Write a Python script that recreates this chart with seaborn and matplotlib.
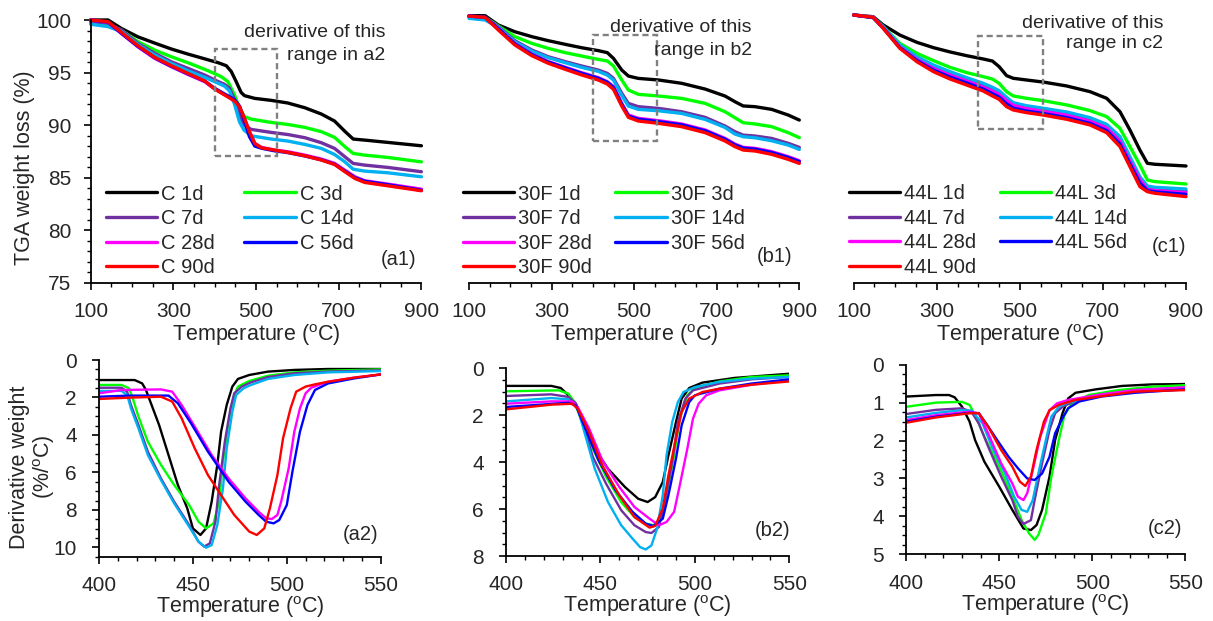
import matplotlib
matplotlib.use("Agg")
import matplotlib.pyplot as plt
from matplotlib.lines import Line2D
from matplotlib.patches import Rectangle
from matplotlib.ticker import MultipleLocator, FixedLocator
import pandas as pd
import seaborn as sns

sns.set_style("ticks")
plt.rcParams["font.family"] = ["Liberation Sans", "DejaVu Sans"]
plt.rcParams["mathtext.fontset"] = "custom"
plt.rcParams["mathtext.rm"] = "Liberation Sans"

# ---------------------------------------------------------------- series
ages = ["1d", "3d", "7d", "14d", "28d", "56d", "90d"]
colors = ["#000000", "#00FF00", "#7030A0", "#00B0F0", "#FF00FF", "#0000FF", "#FF0000"]

# TGA, mix C
C_1d_T = [100, 142, 174, 214, 255, 295, 335, 376, 408, 428, 440, 452, 464, 472, 497, 537, 577, 618, 658, 690, 715, 735, 763, 819, 900]
C_1d_W = [100, 100, 99.2, 98.4, 97.8, 97.24, 96.76, 96.3, 95.94, 95.65, 95.1, 94.13, 93.1, 92.8, 92.54, 92.35, 92.1, 91.65, 91.05, 90.38, 89.4, 88.67, 88.57, 88.35, 88.03]
C_3d_T = [100, 142, 174, 214, 255, 295, 335, 376, 400, 416, 432, 448, 460, 472, 488, 537, 577, 618, 658, 690, 715, 735, 763, 819, 900]
C_3d_W = [99.68, 99.5, 99.05, 97.94, 97.14, 96.5, 95.94, 95.3, 94.9, 94.6, 94.13, 92.86, 91.6, 90.8, 90.57, 90.25, 90.06, 89.78, 89.37, 88.83, 87.94, 87.3, 87.14, 86.92, 86.5]
C_7d_T = [100, 142, 174, 214, 255, 295, 335, 376, 400, 424, 436, 448, 460, 472, 488, 537, 577, 618, 658, 690, 715, 735, 763, 819, 900]
C_7d_W = [99.84, 99.7, 99.05, 97.78, 96.83, 96.03, 95.4, 94.76, 94.29, 93.87, 93.5, 92.38, 90.95, 90.0, 89.59, 89.3, 89.1, 88.8, 88.32, 87.78, 86.98, 86.35, 86.19, 85.97, 85.56]
C_14d_T = [100, 142, 174, 214, 255, 295, 335, 376, 400, 424, 436, 448, 460, 471, 488, 537, 577, 618, 658, 690, 715, 735, 763, 819, 900]
C_14d_W = [99.6, 99.37, 98.9, 97.68, 96.67, 95.87, 95.17, 94.54, 94.13, 93.7, 93.24, 91.97, 90.3, 89.52, 88.98, 88.67, 88.48, 88.16, 87.78, 87.2, 86.5, 85.8, 85.62, 85.46, 85.08]
C_28d_T = [100, 142, 174, 214, 255, 295, 335, 376, 400, 424, 448, 460, 472, 484, 497, 513, 545, 577, 618, 658, 690, 715, 739, 763, 819, 900]
C_28d_W = [100, 99.78, 98.73, 97.46, 96.35, 95.56, 94.83, 94.13, 93.43, 92.92, 92.38, 91.75, 90.63, 89.37, 88.25, 87.87, 87.62, 87.46, 87.14, 86.76, 86.35, 85.7, 85.08, 84.7, 84.38, 83.9]
C_56d_T = [100, 142, 174, 214, 255, 295, 335, 376, 400, 424, 448, 460, 472, 484, 497, 513, 545, 577, 618, 658, 690, 715, 739, 763, 819, 900]
C_56d_W = [100, 99.8, 98.75, 97.5, 96.4, 95.6, 94.88, 94.18, 93.5, 92.95, 92.42, 91.8, 90.4, 88.9, 88.0, 87.8, 87.55, 87.38, 87.06, 86.7, 86.28, 85.62, 85.0, 84.65, 84.32, 83.8]
C_90d_T = [100, 142, 174, 214, 255, 295, 335, 376, 400, 424, 448, 460, 472, 484, 497, 513, 545, 577, 618, 658, 690, 715, 739, 763, 819, 900]
C_90d_W = [100, 99.84, 98.83, 97.56, 96.44, 95.65, 94.92, 94.19, 93.43, 92.86, 92.29, 91.75, 90.63, 89.37, 88.25, 87.84, 87.62, 87.4, 87.08, 86.67, 86.25, 85.56, 84.92, 84.54, 84.22, 83.75]

# TGA, mix 30F (shared temperature grid)
F_T = [100, 139, 171, 211, 252, 292, 333, 373, 413, 435, 450, 470, 486, 510, 559, 615, 672, 720, 744, 764, 793, 833, 873, 900]
F_1d_W = [100, 100, 99.13, 98.5, 98.04, 97.66, 97.32, 97.0, 96.73, 96.54, 96.0, 94.91, 94.35, 94.13, 93.98, 93.67, 93.13, 92.48, 91.95, 91.55, 91.48, 91.23, 90.7, 90.23]
F_3d_W = [99.9, 99.85, 99.04, 98.04, 97.41, 96.94, 96.54, 96.22, 95.91, 95.76, 95.29, 93.98, 93.04, 92.64, 92.48, 92.26, 91.79, 91.01, 90.45, 89.98, 89.86, 89.61, 89.05, 88.58]
F_7d_W = [99.9, 99.8, 98.97, 97.66, 96.79, 96.16, 95.7, 95.29, 94.91, 94.6, 94.13, 92.73, 91.79, 91.48, 91.32, 91.01, 90.48, 89.67, 89.14, 88.82, 88.73, 88.51, 88.05, 87.67]
F_14d_W = [99.75, 99.6, 98.9, 97.57, 96.69, 96.07, 95.6, 95.16, 94.79, 94.44, 93.98, 92.54, 91.54, 91.23, 91.1, 90.85, 90.29, 89.54, 88.92, 88.67, 88.57, 88.29, 87.89, 87.48]
F_28d_W = [99.97, 99.85, 98.82, 97.41, 96.41, 95.7, 95.17, 94.66, 94.2, 93.82, 93.35, 91.79, 90.7, 90.39, 90.17, 89.86, 89.3, 88.51, 87.98, 87.67, 87.58, 87.27, 86.8, 86.42]
F_56d_W = [99.97, 99.85, 98.78, 97.36, 96.36, 95.65, 95.12, 94.6, 94.14, 93.76, 93.28, 91.7, 90.6, 90.3, 90.08, 89.78, 89.22, 88.43, 87.9, 87.6, 87.5, 87.19, 86.72, 86.33]
F_90d_W = [99.97, 99.84, 98.66, 97.26, 96.26, 95.54, 94.98, 94.45, 93.98, 93.6, 93.1, 91.54, 90.48, 90.14, 89.92, 89.61, 89.05, 88.27, 87.74, 87.42, 87.33, 87.02, 86.55, 86.17]

# TGA, mix 44L (shared temperature grid)
L_T = [100, 147, 171, 211, 252, 292, 332, 372, 412, 434, 450, 468, 484, 516, 556, 613, 669, 709, 741, 765, 789, 807, 825, 900]
L_1d_W = [100, 99.84, 99.07, 98.13, 97.45, 96.95, 96.55, 96.2, 95.89, 95.7, 95.18, 94.34, 94.09, 93.93, 93.74, 93.37, 92.84, 92.22, 90.97, 89.26, 87.39, 86.15, 86.06, 85.9]
L_3d_W = [100, 99.78, 98.91, 97.35, 96.42, 95.74, 95.11, 94.62, 94.24, 94.02, 93.62, 92.84, 92.44, 92.22, 92.0, 91.6, 91.07, 90.51, 89.42, 87.71, 85.99, 84.59, 84.44, 84.22]
L_7d_W = [100, 99.78, 98.85, 97.1, 95.95, 95.11, 94.49, 93.93, 93.37, 93.0, 92.69, 92.13, 91.69, 91.38, 91.13, 90.76, 90.2, 89.57, 88.33, 86.46, 84.75, 83.82, 83.72, 83.57]
L_14d_W = [100, 99.78, 98.91, 97.2, 96.11, 95.33, 94.71, 94.15, 93.62, 93.25, 92.93, 92.31, 91.81, 91.53, 91.29, 90.94, 90.41, 89.79, 88.64, 86.77, 84.9, 84.03, 83.91, 83.75]
L_28d_W = [100, 99.78, 98.8, 97.0, 95.85, 95.0, 94.38, 93.82, 93.25, 92.88, 92.57, 92.0, 91.56, 91.25, 91.0, 90.63, 90.07, 89.45, 88.2, 86.35, 84.62, 83.7, 83.6, 83.4]
L_56d_W = [100, 99.75, 98.78, 96.95, 95.75, 94.85, 94.2, 93.65, 93.08, 92.65, 92.33, 91.7, 91.3, 91.03, 90.8, 90.42, 89.88, 89.2, 87.95, 86.1, 84.3, 83.6, 83.48, 83.25]
L_90d_W = [100, 99.78, 98.76, 96.89, 95.64, 94.71, 94.02, 93.46, 92.9, 92.44, 92.13, 91.44, 91.13, 90.88, 90.66, 90.26, 89.73, 89.01, 87.71, 85.84, 83.97, 83.5, 83.35, 83.04]

# DTG, mix C (400-550 degC)
dC_1d_T = [400, 419, 423, 425, 428, 432, 437, 442, 447, 450, 454, 457, 460, 463, 465, 468, 471, 474, 480, 490, 504, 522, 550]
dC_1d_D = [1.07, 1.07, 1.25, 1.6, 2.4, 3.47, 5.07, 6.67, 7.92, 8.99, 9.34, 8.99, 7.56, 5.6, 3.83, 2.4, 1.42, 1.01, 0.8, 0.62, 0.53, 0.48, 0.48]
dC_3d_T = [400, 412, 416, 418, 421, 426, 433, 440, 448, 453, 457, 461, 464, 466, 469, 472, 474, 480, 490, 504, 522, 550]
dC_3d_D = [1.33, 1.33, 1.51, 2.05, 3.02, 4.36, 5.6, 6.67, 7.74, 8.63, 8.99, 8.72, 7.56, 5.43, 3.29, 1.87, 1.42, 1.12, 0.84, 0.66, 0.57, 0.5]
dC_7d_T = [400, 412, 415, 417, 421, 426, 433, 440, 448, 453, 456, 459, 462, 464, 467, 470, 472, 476, 481, 490, 504, 522, 550]
dC_7d_D = [1.48, 1.48, 1.69, 2.4, 3.47, 4.89, 6.32, 7.56, 8.81, 9.7, 9.96, 9.79, 8.63, 6.67, 4.36, 2.58, 1.78, 1.42, 1.19, 0.91, 0.71, 0.62, 0.55]
dC_14d_T = [400, 412, 415, 417, 421, 426, 433, 440, 448, 453, 457, 460, 463, 466, 468, 471, 473, 477, 481, 490, 504, 522, 550]
dC_14d_D = [1.65, 1.65, 1.87, 2.58, 3.65, 5.07, 6.41, 7.65, 8.9, 9.7, 10.02, 9.88, 8.81, 6.85, 4.72, 2.76, 1.87, 1.51, 1.33, 1.01, 0.8, 0.66, 0.59]
dC_28d_T = [400, 412, 433, 439, 444, 451, 460, 469, 478, 485, 489, 492, 495, 497, 501, 504, 507, 510, 513, 522, 536, 550]
dC_28d_D = [1.78, 1.6, 1.57, 1.69, 2.4, 3.56, 5.07, 6.32, 7.38, 8.1, 8.45, 8.49, 8.27, 7.56, 5.78, 3.83, 2.58, 1.78, 1.48, 1.16, 0.94, 0.77]
dC_56d_T = [400, 416, 437, 442, 449, 458, 469, 478, 485, 489, 493, 496, 500, 503, 507, 511, 515, 522, 536, 550]
dC_56d_D = [1.96, 1.9, 1.9, 2.31, 3.38, 4.89, 6.5, 7.56, 8.27, 8.63, 8.72, 8.54, 7.74, 5.96, 3.83, 2.4, 1.6, 1.25, 0.98, 0.77]
dC_90d_T = [400, 416, 433, 439, 444, 451, 458, 465, 472, 480, 484, 488, 491, 495, 498, 502, 505, 510, 515, 522, 536, 550]
dC_90d_D = [2.08, 2.01, 1.96, 2.22, 3.11, 4.72, 6.14, 7.21, 8.27, 9.16, 9.34, 8.99, 7.92, 6.14, 4.18, 2.58, 1.69, 1.42, 1.3, 1.16, 0.94, 0.77]

# DTG, mix 30F
dF_1d_T = [400, 424, 429, 433, 437, 442, 447, 454, 463, 470, 475, 479, 483, 486, 490, 493, 497, 504, 521, 550]
dF_1d_D = [0.75, 0.75, 0.84, 1.15, 1.51, 2.57, 3.43, 4.28, 5.06, 5.56, 5.7, 5.49, 4.85, 3.71, 2.29, 1.29, 0.84, 0.61, 0.41, 0.23]
dF_3d_T = [400, 428, 433, 436, 440, 446, 453, 461, 468, 474, 478, 482, 485, 489, 492, 496, 500, 513, 530, 550]
dF_3d_D = [0.98, 0.94, 1.08, 1.41, 2.22, 3.43, 4.63, 5.7, 6.34, 6.62, 6.69, 6.41, 5.41, 3.71, 2.15, 1.15, 0.84, 0.56, 0.37, 0.3]
dF_7d_T = [400, 424, 433, 437, 441, 446, 453, 461, 468, 474, 477, 481, 484, 488, 491, 495, 499, 513, 530, 550]
dF_7d_D = [1.18, 1.11, 1.22, 1.51, 2.43, 3.78, 4.92, 6.05, 6.69, 6.98, 7.02, 6.76, 5.7, 3.99, 2.29, 1.29, 0.94, 0.65, 0.47, 0.37]
dF_14d_T = [400, 424, 433, 438, 442, 447, 454, 461, 467, 471, 474, 477, 480, 483, 485, 488, 491, 494, 500, 513, 530, 550]
dF_14d_D = [1.41, 1.27, 1.32, 1.72, 2.86, 4.28, 5.7, 6.69, 7.26, 7.62, 7.72, 7.55, 6.83, 5.41, 3.71, 2.29, 1.44, 1.01, 0.8, 0.58, 0.44, 0.37]
dF_28d_T = [400, 424, 435, 438, 444, 451, 460, 468, 476, 481, 485, 489, 492, 496, 499, 502, 506, 513, 530, 550]
dF_28d_D = [1.51, 1.41, 1.41, 1.65, 2.57, 3.92, 5.06, 5.91, 6.41, 6.69, 6.55, 6.12, 4.99, 3.43, 2.15, 1.51, 1.15, 0.94, 0.7, 0.51]
dF_56d_T = [400, 433, 437, 442, 449, 458, 467, 474, 478, 483, 486, 490, 493, 497, 500, 513, 530, 550]
dF_56d_D = [1.65, 1.47, 1.58, 2.57, 3.92, 5.2, 6.12, 6.62, 6.72, 6.41, 5.41, 3.85, 2.43, 1.44, 1.15, 0.87, 0.65, 0.47]
dF_90d_T = [400, 424, 435, 438, 444, 451, 460, 468, 476, 479, 483, 486, 490, 493, 497, 504, 513, 530, 550]
dF_90d_D = [1.75, 1.55, 1.51, 1.72, 2.72, 4.14, 5.41, 6.34, 6.79, 6.72, 5.98, 4.56, 2.98, 1.86, 1.29, 1.01, 0.87, 0.7, 0.56]

# DTG, mix 44L
dL_1d_T = [400, 416, 423, 426, 430, 434, 437, 442, 450, 457, 463, 467, 470, 473, 477, 480, 484, 487, 491, 502, 516, 532, 550]
dL_1d_D = [0.84, 0.8, 0.8, 0.86, 1.11, 1.5, 1.99, 2.56, 3.22, 3.83, 4.32, 4.36, 4.23, 3.83, 2.95, 1.99, 1.28, 0.89, 0.74, 0.65, 0.56, 0.52, 0.51]
dL_3d_T = [400, 416, 430, 434, 437, 442, 450, 457, 462, 466, 469, 471, 475, 478, 482, 485, 489, 498, 514, 532, 550]
dL_3d_D = [1.11, 1.0, 0.98, 1.06, 1.33, 1.9, 2.69, 3.48, 4.1, 4.45, 4.62, 4.49, 3.92, 2.95, 1.99, 1.33, 1.02, 0.8, 0.67, 0.58, 0.54]
dL_7d_T = [400, 416, 430, 435, 439, 444, 451, 457, 460, 463, 467, 469, 473, 477, 480, 484, 491, 505, 523, 550]
dL_7d_D = [1.3, 1.19, 1.15, 1.24, 1.55, 2.16, 2.95, 3.57, 4.01, 4.2, 4.1, 3.57, 2.6, 1.72, 1.28, 1.11, 0.95, 0.8, 0.67, 0.6]
dL_14d_T = [400, 416, 430, 435, 441, 446, 453, 458, 462, 465, 468, 471, 475, 478, 482, 487, 505, 523, 550]
dL_14d_D = [1.39, 1.27, 1.2, 1.21, 1.55, 2.16, 2.86, 3.48, 3.83, 3.88, 3.57, 2.87, 1.99, 1.37, 1.11, 1.0, 0.8, 0.69, 0.62]
dL_28d_T = [400, 416, 434, 439, 444, 451, 457, 460, 463, 465, 468, 472, 477, 481, 487, 505, 523, 550]
dL_28d_D = [1.46, 1.33, 1.24, 1.28, 1.81, 2.6, 3.13, 3.48, 3.57, 3.39, 2.78, 1.9, 1.2, 1.02, 0.93, 0.78, 0.67, 0.6]
dL_56d_T = [400, 416, 434, 439, 444, 450, 455, 460, 465, 469, 473, 477, 480, 484, 487, 493, 505, 523, 550]
dL_56d_D = [1.5, 1.37, 1.27, 1.28, 1.63, 2.07, 2.43, 2.73, 3.0, 3.04, 2.87, 2.43, 1.81, 1.41, 1.15, 0.97, 0.84, 0.74, 0.65]
dL_90d_T = [400, 416, 434, 439, 444, 451, 457, 461, 464, 467, 470, 474, 477, 482, 491, 505, 523, 550]
dL_90d_D = [1.53, 1.39, 1.28, 1.28, 1.63, 2.25, 2.69, 3.08, 3.2, 2.95, 2.25, 1.5, 1.2, 1.06, 0.93, 0.83, 0.71, 0.67]

tga_ticks = [100, 300, 500, 700, 900]

# ---------------------------------------------------------------- layout
W_PX, H_PX = 1213, 621
fig = plt.figure(figsize=(W_PX / 100, H_PX / 100), dpi=100)


def axes_px(x0, y0, x1, y1):
    """Add axes from a pixel box (top-left origin)."""
    return fig.add_axes([x0 / W_PX, 1 - y1 / H_PX, (x1 - x0) / W_PX, (y1 - y0) / H_PX])


def fx(px):
    return px / W_PX


def fy(py):
    return 1 - py / H_PX


TEMP_LABEL = r"Temperature ($\mathregular{^{o}}$C)"


def frame(series):
    return pd.DataFrame({"temp": [t for ts, _ in series for t in ts],
                         "val": [v for _, vs in series for v in vs],
                         "age": [a for a, (ts, _) in zip(ages, series) for _ in ts]})


def draw(ax, series, lw, clip=True):
    sns.lineplot(data=frame(series), x="temp", y="val", hue="age", hue_order=ages,
                 palette=colors, sort=False, estimator=None, lw=lw,
                 legend=False, ax=ax, clip_on=clip)


def style_axes(ax, show_y, tick_size):
    sns.despine(ax=ax, left=not show_y)
    for s in ("left", "bottom"):
        ax.spines[s].set_linewidth(1.3)
        ax.spines[s].set_color("black")
    ax.tick_params(which="major", length=5, width=1.2, labelsize=tick_size,
                   color="black", direction="out")
    ax.tick_params(which="minor", length=3, width=1.0, color="black",
                   direction="out")
    ax.tick_params(axis="x", pad=9)
    ax.tick_params(axis="y", pad=9)
    if not show_y:
        ax.tick_params(axis="y", which="both", left=False, labelleft=False)
    ax.set_xlabel("")
    ax.set_ylabel("")


def legend(ax, prefix, x_px, y_px, colsp):
    handles = [Line2D([], [], color=c, lw=2.4) for c in colors]
    labels = [f"{prefix} {a}" for a in ages]
    order = [0, 2, 4, 6, 1, 3, 5]
    ax.legend([handles[i] for i in order], [labels[i] for i in order],
              ncol=2, loc="upper left", bbox_to_anchor=(fx(x_px), fy(y_px)),
              bbox_transform=fig.transFigure, frameon=False, borderpad=0,
              borderaxespad=0, handlelength=2.55, handletextpad=0.2,
              columnspacing=colsp, labelspacing=0.28, fontsize=14.5)


tga_sets = [
    ("C", [(C_1d_T, C_1d_W), (C_3d_T, C_3d_W), (C_7d_T, C_7d_W), (C_14d_T, C_14d_W),
           (C_28d_T, C_28d_W), (C_56d_T, C_56d_W), (C_90d_T, C_90d_W)]),
    ("30F", [(F_T, F_1d_W), (F_T, F_3d_W), (F_T, F_7d_W), (F_T, F_14d_W),
             (F_T, F_28d_W), (F_T, F_56d_W), (F_T, F_90d_W)]),
    ("44L", [(L_T, L_1d_W), (L_T, L_3d_W), (L_T, L_7d_W), (L_T, L_14d_W),
             (L_T, L_28d_W), (L_T, L_56d_W), (L_T, L_90d_W)]),
]
dtg_sets = [
    [(dC_1d_T, dC_1d_D), (dC_3d_T, dC_3d_D), (dC_7d_T, dC_7d_D), (dC_14d_T, dC_14d_D),
     (dC_28d_T, dC_28d_D), (dC_56d_T, dC_56d_D), (dC_90d_T, dC_90d_D)],
    [(dF_1d_T, dF_1d_D), (dF_3d_T, dF_3d_D), (dF_7d_T, dF_7d_D), (dF_14d_T, dF_14d_D),
     (dF_28d_T, dF_28d_D), (dF_56d_T, dF_56d_D), (dF_90d_T, dF_90d_D)],
    [(dL_1d_T, dL_1d_D), (dL_3d_T, dL_3d_D), (dL_7d_T, dL_7d_D), (dL_14d_T, dL_14d_D),
     (dL_28d_T, dL_28d_D), (dL_56d_T, dL_56d_D), (dL_90d_T, dL_90d_D)],
]

# pixel boxes of the panels
top_boxes = [(90.7, 20, 421.4, 282.7), (469, 15.7, 799.3, 282.7), (853.7, 15, 1186, 282.7)]
bot_boxes = [(99, 360, 380.7, 556.7), (506, 368.3, 789.3, 556), (906.3, 364.7, 1185.3, 554.3)]

# dashed boxes marking the DTG range (temp0, temp1, w_low, w_high)
range_boxes = [(400, 550, 87.1, 97.27), (400, 555, 88.3, 98.2), (400, 555, 89.36, 98.07)]
tags_top = ["(a1)", "(b1)", "(c1)"]
tags_bot = ["(a2)", "(b2)", "(c2)"]
note_lines = [("derivative of this", "range in a2"), ("derivative of this", "range in b2"),
              ("derivative of this", "range in c2")]
# right edge, centre of line 1, centre of line 2 (pixels)
note_pos = [(385, 30.7, 53.3), (752, 25, 48.3), (1163, 21, 41.7)]
tag_top_pos = [(416, 259.3), (792, 256.7), (1186, 246.7)]
legend_pos = [(106, 184.5), (463, 184.5), (849, 184)]
legend_colsp = [1.45, 1.15, 1.15]

# ---------------------------------------------------------------- TGA row
for i, (prefix, series) in enumerate(tga_sets):
    ax = axes_px(*top_boxes[i])
    draw(ax, series, lw=2.4, clip=False)
    ax.set_xlim(100, 900)
    ax.set_ylim(75, 100)
    ax.xaxis.set_major_locator(FixedLocator(tga_ticks))
    ax.xaxis.set_minor_locator(MultipleLocator(50))
    ax.yaxis.set_major_locator(MultipleLocator(5))
    ax.yaxis.set_minor_locator(MultipleLocator(1))
    style_axes(ax, show_y=(i == 0), tick_size=15)
    ax.set_xlabel(TEMP_LABEL, fontsize=15.5)
    ax.xaxis.set_label_coords(0.5, -39.0 / (top_boxes[i][3] - top_boxes[i][1]))
    if i == 0:
        ax.set_ylabel("TGA weight loss (%)", fontsize=15.5)
        ax.yaxis.set_label_coords(-0.168, 0.437)
    t0, t1, w0, w1 = range_boxes[i]
    ax.add_patch(Rectangle((t0, w0), t1 - t0, w1 - w0, fill=False,
                           ec="#808080", lw=1.7, ls=(0, (2.6, 1.6)), zorder=5))
    xr, y1, y2 = note_pos[i]
    fig.text(fx(xr), fy(y1), note_lines[i][0], ha="right", va="center_baseline", fontsize=14)
    fig.text(fx(xr), fy(y2), note_lines[i][1], ha="right", va="center_baseline", fontsize=14)
    fig.text(fx(tag_top_pos[i][0]), fy(tag_top_pos[i][1]), tags_top[i],
             ha="right", va="center", fontsize=14.5)
    legend(ax, prefix, legend_pos[i][0], legend_pos[i][1], legend_colsp[i])

# ---------------------------------------------------------------- DTG row
dtg_ylim = [10.5, 8, 5]
dtg_major = [2, 2, 1]
dtg_minor = [0.5, 0.5, 0.25]
tag_bot_pos = [(378, 535), (790, 530), (1182, 528.3)]

for i, series in enumerate(dtg_sets):
    ax = axes_px(*bot_boxes[i])
    draw(ax, series, lw=1.7)
    ax.set_xlim(400, 550)
    ax.set_ylim(dtg_ylim[i], 0)
    ax.xaxis.set_major_locator(MultipleLocator(50))
    ax.xaxis.set_minor_locator(MultipleLocator(10))
    ax.yaxis.set_major_locator(MultipleLocator(dtg_major[i]))
    ax.yaxis.set_minor_locator(MultipleLocator(dtg_minor[i]))
    style_axes(ax, show_y=True, tick_size=15)
    ax.tick_params(axis="y", pad=11)
    ax.set_xlabel(TEMP_LABEL, fontsize=15.5)
    ax.xaxis.set_label_coords(0.5, -37.5 / (bot_boxes[i][3] - bot_boxes[i][1]))
    if i == 0:
        ax.set_ylabel("Derivative weight\n" + r"(%/$\mathregular{^{o}}$C)",
                      fontsize=15.5, linespacing=1.1)
        ax.yaxis.set_label_coords(-0.148, 0.456)
    fig.text(fx(tag_bot_pos[i][0]), fy(tag_bot_pos[i][1]), tags_bot[i],
             ha="right", va="center", fontsize=14.5)

fig.savefig("out.png", dpi=100)
